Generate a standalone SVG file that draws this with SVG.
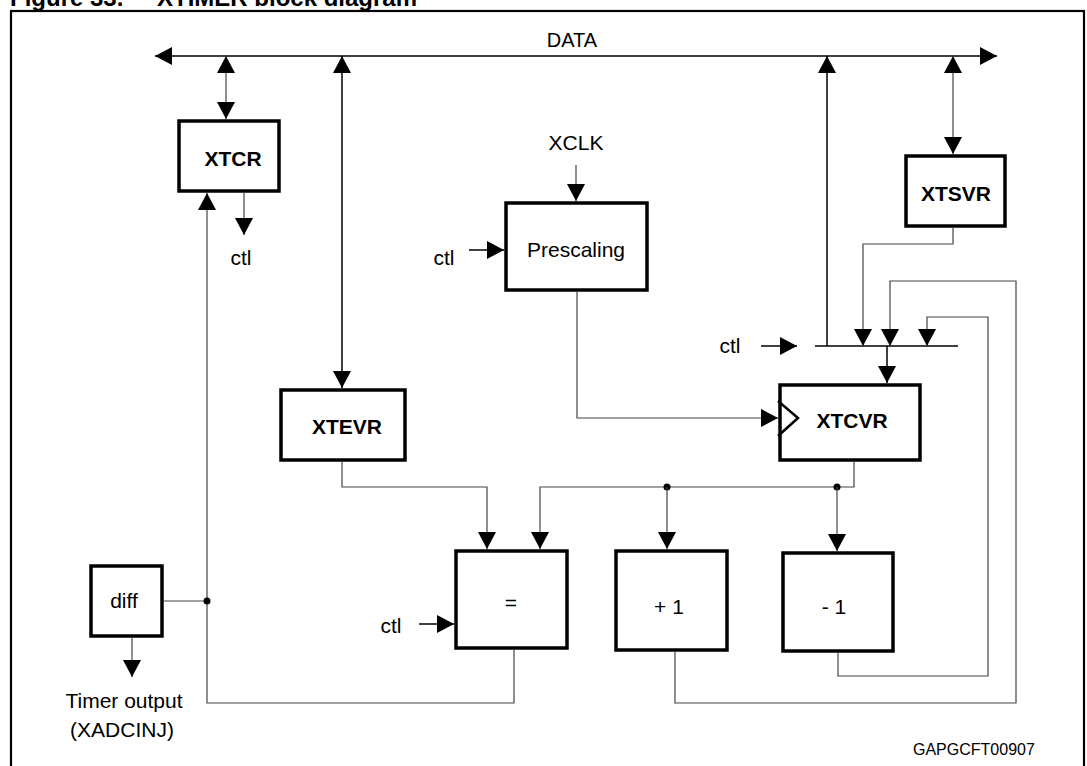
<svg xmlns="http://www.w3.org/2000/svg" width="1087" height="766" viewBox="0 0 1087 766">
<style>
text{font-family:"Liberation Sans",Arial,sans-serif;fill:#000}
.t{font-size:21px}
.b{font-size:21px;font-weight:bold}
.box{fill:#fff;stroke:#000;stroke-width:3.5}
.c{fill:none;stroke:#444;stroke-width:1.2}
.k{fill:none;stroke:#000;stroke-width:1.5}
.a{marker-end:url(#ah)}
.a2{marker-start:url(#ah);marker-end:url(#ah)}
</style>
<defs>
<marker id="ah" viewBox="0 0 17 18" refX="17" refY="9" markerWidth="17" markerHeight="18" markerUnits="userSpaceOnUse" orient="auto-start-reverse"><path d="M0,0 L17,9 L0,18 Z" fill="#000"/></marker>
</defs>
<rect width="1087" height="766" fill="#fff"/>
<text x="10" y="6" style="font-size:24px;font-weight:bold">Figure 33.</text>
<text x="157" y="6" style="font-size:24px;font-weight:bold">XTIMER block diagram</text>
<rect x="11" y="11" width="1073" height="770" fill="none" stroke="#000" stroke-width="2.2"/>

<g id="connectors">
<line class="k a2" x1="155" y1="56" x2="997" y2="56"/>
<line class="c a2" x1="226" y1="56" x2="226" y2="119"/>
<line class="c a" x1="244" y1="193" x2="244" y2="235"/>
<path class="c a" d="M514,650 V703 H207 V193"/>
<line class="c" x1="164" y1="601" x2="207" y2="601"/>
<circle cx="207" cy="601" r="3.5" fill="#000"/>
<line class="c a" x1="132" y1="638" x2="132" y2="677"/>
<line class="k a2" x1="342" y1="56" x2="342" y2="388"/>
<line class="c a" x1="576" y1="165" x2="576" y2="201"/>
<line class="k a" x1="469" y1="250" x2="504" y2="250"/>
<path class="c a" d="M577,292 V418 H778"/>
<line class="c a2" x1="953" y1="56" x2="953" y2="154"/>
<line class="k a" x1="827" y1="346" x2="827" y2="56"/>
<line class="k" x1="815" y1="346" x2="958" y2="346"/>
<line class="k a" x1="761" y1="346" x2="797" y2="346"/>
<line class="k a" x1="887" y1="346" x2="887" y2="383"/>
<path class="c a" d="M953,228 V244 H863 V346"/>
<path class="c a" d="M675,652 V703 H1016 V281 H890 V346"/>
<path class="c a" d="M838,653 V676 H988 V317 H927 V346"/>
<path class="c a" d="M854,462 V487 H540 V549"/>
<circle cx="667" cy="487" r="3.5" fill="#000"/>
<circle cx="837" cy="487" r="3.5" fill="#000"/>
<line class="c a" x1="667" y1="487" x2="667" y2="549"/>
<line class="c a" x1="837" y1="487" x2="837" y2="551"/>
<path class="c a" d="M342,462 V487 H487 V549"/>
<line class="k a" x1="419" y1="624" x2="454" y2="624"/>
</g>

<g id="labels">
<text class="t" x="572" y="47" text-anchor="middle" style="font-size:20px">DATA</text>
<text class="t" x="576" y="150" text-anchor="middle">XCLK</text>
<text class="t" x="241" y="265" text-anchor="middle">ctl</text>
<text class="t" x="444" y="265" text-anchor="middle">ctl</text>
<text class="t" x="730" y="353" text-anchor="middle">ctl</text>
<text class="t" x="391" y="633" text-anchor="middle">ctl</text>
<text class="t" x="124" y="708" text-anchor="middle">Timer output</text>
<text class="t" x="122" y="737" text-anchor="middle">(XADCINJ)</text>
<text x="913" y="755" style="font-size:16px">GAPGCFT00907</text>
</g>

<g id="XTCR"><rect class="box" x="179" y="121" width="100" height="70"/><text class="b" x="233" y="166" text-anchor="middle">XTCR</text></g>
<g id="Prescaling"><rect class="box" x="506" y="203" width="141" height="87"/><text class="t" x="576" y="257" text-anchor="middle">Prescaling</text></g>
<g id="XTSVR"><rect class="box" x="906" y="156" width="99" height="70"/><text class="b" x="956" y="201" text-anchor="middle">XTSVR</text></g>
<g id="XTEVR"><rect class="box" x="281" y="390" width="124" height="70"/><text class="b" x="347" y="434" text-anchor="middle">XTEVR</text></g>
<g id="XTCVR"><rect class="box" x="780" y="385" width="140" height="75"/><polyline points="778,401 798,418 778,436" fill="none" stroke="#000" stroke-width="2.5"/><text class="b" x="852" y="428" text-anchor="middle">XTCVR</text></g>
<g id="eq"><rect class="box" x="456" y="551" width="111" height="97"/><text class="t" x="511" y="610" text-anchor="middle">=</text></g>
<g id="plus1"><rect class="box" x="616" y="551" width="111" height="99"/><text class="t" x="669" y="614" text-anchor="middle">+ 1</text></g>
<g id="minus1"><rect class="box" x="783" y="553" width="110" height="98"/><text class="t" x="834" y="614" text-anchor="middle">- 1</text></g>
<g id="diff"><rect class="box" x="91" y="566" width="71" height="70"/><text class="t" x="124" y="608" text-anchor="middle">diff</text></g>
</svg>
